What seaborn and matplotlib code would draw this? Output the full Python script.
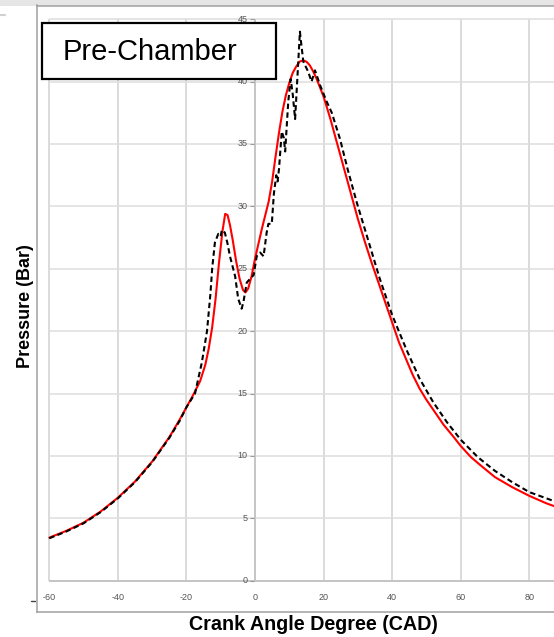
import matplotlib
matplotlib.use("Agg")
import matplotlib.pyplot as plt
import seaborn as sns
import pandas as pd
from matplotlib.patches import Rectangle
from matplotlib.lines import Line2D

# ---------------- data ----------------
crank_angle_sim = [-60, -55, -50, -45, -40, -35, -30, -25, -22, -20, -18, -16, -14.5,
                   -13.5, -12.5, -11.5, -10.5, -9.5, -8.7, -8.0, -7.3, -6.5, -5.5, -4.5,
                   -3.5, -2.8, -2, -1, 0, 1, 2, 3, 4, 5, 6, 7, 8, 9, 10, 11, 12, 13, 14,
                   15, 16, 17, 18, 20, 22, 24, 26, 28, 30, 32, 34, 36, 38, 40, 42, 44, 46,
                   48, 50, 52, 55, 58, 60, 63, 66, 70, 75, 80, 85, 88]
pressure_sim = [3.45, 4.0, 4.65, 5.55, 6.65, 7.95, 9.55, 11.5, 12.9, 13.9, 14.9, 16.0, 17.3,
                18.6, 20.3, 22.6, 25.5, 28.0, 29.4, 29.3, 28.5, 27.3, 25.6, 24.2,
                23.3, 23.1, 23.4, 24.4, 25.8, 27.0, 28.2, 29.3, 30.4, 32.0, 34.0, 35.9,
                37.6, 38.9, 39.9, 40.7, 41.2, 41.6, 41.7,
                41.6, 41.3, 40.8, 40.2, 38.8, 37.0, 35.0, 33.0, 31.0, 29.0, 27.2, 25.5,
                23.9, 22.3, 20.7, 19.1, 17.8, 16.5, 15.4, 14.5, 13.7, 12.5, 11.5, 10.8,
                9.9, 9.2, 8.3, 7.5, 6.8, 6.2, 5.9]

crank_angle_exp = [-60, -55, -50, -45, -40, -35, -30, -25, -22, -20, -17.5, -15.5, -14,
                   -13, -12.5, -11.7, -10.7, -10, -9.7, -8.8, -8, -7.3, -5.8, -4.9, -3.9,
                   -3.4, -2.4, -1.4, -0.4, 0.5, 1.5, 2.5, 3.4, 3.9, 4.9, 5.5, 6.2, 6.6,
                   7.0, 7.8, 8.4, 8.8, 9.7, 10.4, 11.0, 11.7, 12.3, 13.1, 13.5, 14.1, 15.5,
                   16.5, 17.5, 19.0, 20.9, 22.4, 24.8, 27, 29.7, 33, 36.4, 40, 44.2, 48,
                   52, 56, 60, 65, 70, 75, 80, 85, 88]
pressure_exp = [3.4, 3.95, 4.6, 5.5, 6.6, 7.9, 9.5, 11.45, 12.8, 13.9, 15.0, 17.5, 20.0,
                23.0, 25.0, 27.1, 27.8, 27.6, 28.1, 27.9, 27.0, 26.0, 24.4, 22.6, 21.8,
                22.3, 23.9, 24.2, 24.5, 26.0, 26.3, 26.0, 27.9, 28.6, 28.6, 31.0, 32.5, 32.0,
                33.0, 36.0, 35.5, 34.4, 38.4, 40.2, 39.0, 37.0, 40.0, 44.0, 43.0, 41.6, 40.8,
                40.0, 40.9, 39.7, 38.4, 37.5, 35.4, 33.0, 30.3, 27.3, 24.2, 21.3, 18.5, 16.2,
                14.3, 12.7, 11.3, 9.9, 8.8, 7.9, 7.1, 6.6, 6.3]

x_ticks = [-60, -40, -20, 0, 20, 40, 60, 80]
y_ticks = [0, 5, 10, 15, 20, 25, 30, 35, 40, 45]
x_label = "Crank Angle Degree (CAD)"
y_label = "Pressure (Bar)"
box_title = "Pre-Chamber"

sim = pd.DataFrame({"CAD": crank_angle_sim, "Pressure": pressure_sim})
exp = pd.DataFrame({"CAD": crank_angle_exp, "Pressure": pressure_exp})

# ---------------- style / layout ----------------
sns.set_style("white")
plt.rcParams["font.family"] = ["Liberation Sans", "DejaVu Sans"]
plt.rcParams["text.color"] = "black"

W, H = 554, 637
fig = plt.figure(figsize=(W / 100, H / 100), dpi=100)


def fx(px):
    return px / W


def fy(py):
    return 1 - py / H


# top grey strip
fig.add_artist(Rectangle((0, fy(5.5)), 1, 5.5 / H, transform=fig.transFigure,
                         facecolor="#e6e6e6", edgecolor="none", zorder=-1))

ax = fig.add_axes([fx(36.5), fy(612), 1 - fx(36.5), fy(5.5) - fy(612)])
ax.set_xlim(-63.74, 87.22)
ax.set_ylim(-2.51, 46.10)
ax.set_xticks([])
ax.set_yticks([])
for side in ["left", "top", "bottom"]:
    ax.spines[side].set_color("#a0a0a0")
    ax.spines[side].set_linewidth(1.1)
ax.spines["right"].set_visible(False)

# grid limited to the data region
ax.vlines(x_ticks, 0, 45, color="#d8d8d8", lw=1.3, zorder=1)
ax.hlines(y_ticks[1:], -60, 100, color="#dedede", lw=1.1, zorder=1)
ax.hlines(0, -60, 100, color="#c4c4c4", lw=1.4, zorder=1)
ax.vlines(0, 0, 45, color="#c6c6c6", lw=1.4, zorder=1)
ax.hlines(y_ticks, -1.5, -0.3, color="#9a9a9a", lw=0.8, zorder=1)

# data
sns.lineplot(data=sim, x="CAD", y="Pressure", ax=ax, color="#ff0000", lw=1.5,
             sort=False, estimator=None, zorder=3)
sns.lineplot(data=exp, x="CAD", y="Pressure", ax=ax, color="black", lw=1.5,
             linestyle="--", sort=False, estimator=None, zorder=4)
ax.lines[-1].set_dashes((2.6, 1.6))
ax.set_xlabel("")
ax.set_ylabel("")

# tick labels
for t in x_ticks:
    ax.text(t, -1.31, f"{t}", ha="center", va="center", fontsize=6.5, color="#555555")
for t in y_ticks:
    ax.text(-2.1, t, f"{t}", ha="right", va="center", fontsize=6.5, color="#555555")

# axis titles
fig.text(fx(313.5), fy(625), x_label, ha="center", va="center",
         fontsize=14.2, fontweight="bold", color="black")
fig.text(fx(25.7), fy(305.8), y_label, ha="center", va="center", rotation=90,
         fontsize=13, fontweight="bold", color="black")

# title box
fig.add_artist(Rectangle((fx(41.7), fy(78.7)), fx(276) - fx(41.7), fy(23.3) - fy(78.7),
                         transform=fig.transFigure, facecolor="white",
                         edgecolor="black", lw=1.6, zorder=5))
fig.text(fx(150.3), fy(51.5), box_title, ha="center", va="center", fontsize=21,
         color="black", zorder=6)

# small stray marks in the reference
fig.add_artist(Line2D([fx(31), fx(35)], [fy(601), fy(601)], color="#444444", lw=1.0))
fig.add_artist(Line2D([fx(0), fx(5)], [fy(14.5), fy(14.5)], color="#d0d0d0", lw=1.5))

fig.savefig("out.png", dpi=100)
